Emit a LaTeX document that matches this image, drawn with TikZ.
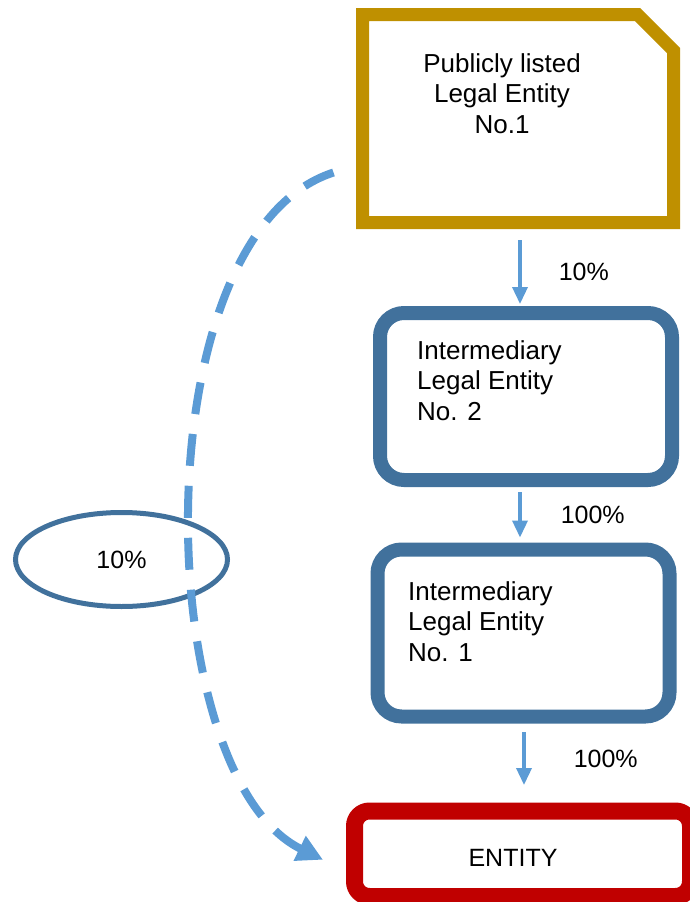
\documentclass[tikz,border=0pt]{standalone}
\usepackage{fontspec}
\setmainfont{Liberation Sans}
\usetikzlibrary{arrows.meta,shapes.geometric}
\definecolor{ouro}{RGB}{191,144,0}
\definecolor{azul}{RGB}{65,113,156}
\definecolor{azulclaro}{RGB}{91,155,213}
\definecolor{vermelho}{RGB}{192,0,0}
\begin{document}
\begin{tikzpicture}[x=1pt,y=-1pt,
  caixa/.style={draw=azul,line width=14pt,rounded corners=24pt,minimum width=292pt,minimum height=167pt},
  texto/.style={font=\fontsize{26}{30.5}\selectfont,align=left,inner sep=0pt},
  rotulo/.style={font=\fontsize{25}{30}\selectfont,text=black,inner sep=0pt},
  seta/.style={azulclaro,line width=3.5pt,-{Triangle[length=17pt,width=15pt]}}]
  \useasboundingbox (0,0) rectangle (689,902);
  % Entidade listada
  \node[minimum width=311pt,minimum height=208pt,inner sep=0pt,outer sep=0pt] (topo) at (518,118.5) {};
  \draw[ouro,line width=13pt] (topo.south west) -- (topo.north west) -- ([xshift=-36pt]topo.north east)
    -- ([yshift=-36pt]topo.north east) -- (topo.south east) -- cycle;
  \node[texto,align=center,anchor=north] (ttopo) at (502,53) {Publicly listed\\Legal Entity\\No.1};
  % Intermediarias
  \node[caixa] (im2) at (526,396.5) {};
  \node[texto,anchor=north west] (tim2) at (417,340) {Intermediary\\Legal Entity\\No. 2};
  \node[caixa] (im1) at (523.5,633) {};
  \node[texto,anchor=north west] (tim1) at (408,581) {Intermediary\\Legal Entity\\No. 1};
  % Entidade
  \node[draw=vermelho,line width=17pt,rounded corners=15pt,minimum width=336pt,minimum height=85.5pt] (ent) at (522.5,853.75) {};
  \node[rotulo] (tent) at (513,858) {ENTITY};
  % Setas
  \draw[seta] ([xshift=2pt,yshift=-17.5pt]topo.south) -- node[rotulo,right=37pt] (p1) {10\%} ([xshift=-6pt,yshift=2pt]im2.north);
  \draw[seta] ([xshift=-6pt,yshift=-5pt]im2.south) -- node[rotulo,right=39pt] (p2) {100\%} ([xshift=-3.5pt,yshift=5pt]im1.north);
  \draw[seta] ([xshift=0.5pt,yshift=-8.5pt]im1.south) -- node[rotulo,right=48pt] (p3) {100\%} ([xshift=1.5pt,yshift=17.5pt]ent.north);
  % Participacao indireta
  \node[ellipse,draw=azul,line width=5pt,minimum width=212pt,minimum height=94pt,inner sep=0pt,rotulo] (elipse) at (121.5,559.5) {10\%};
  \coordinate (ini) at ([xshift=-29pt,yshift=-54pt]topo.west);
  \coordinate (fim) at ([xshift=-23pt,yshift=-6pt]ent.west);
  \draw[azulclaro,line width=8pt,dash pattern=on 32pt off 20pt,-{Triangle[length=26pt,width=26pt]}]
    (ini) .. controls (140,235) and (150,775) .. (fim);
\end{tikzpicture}
\end{document}
